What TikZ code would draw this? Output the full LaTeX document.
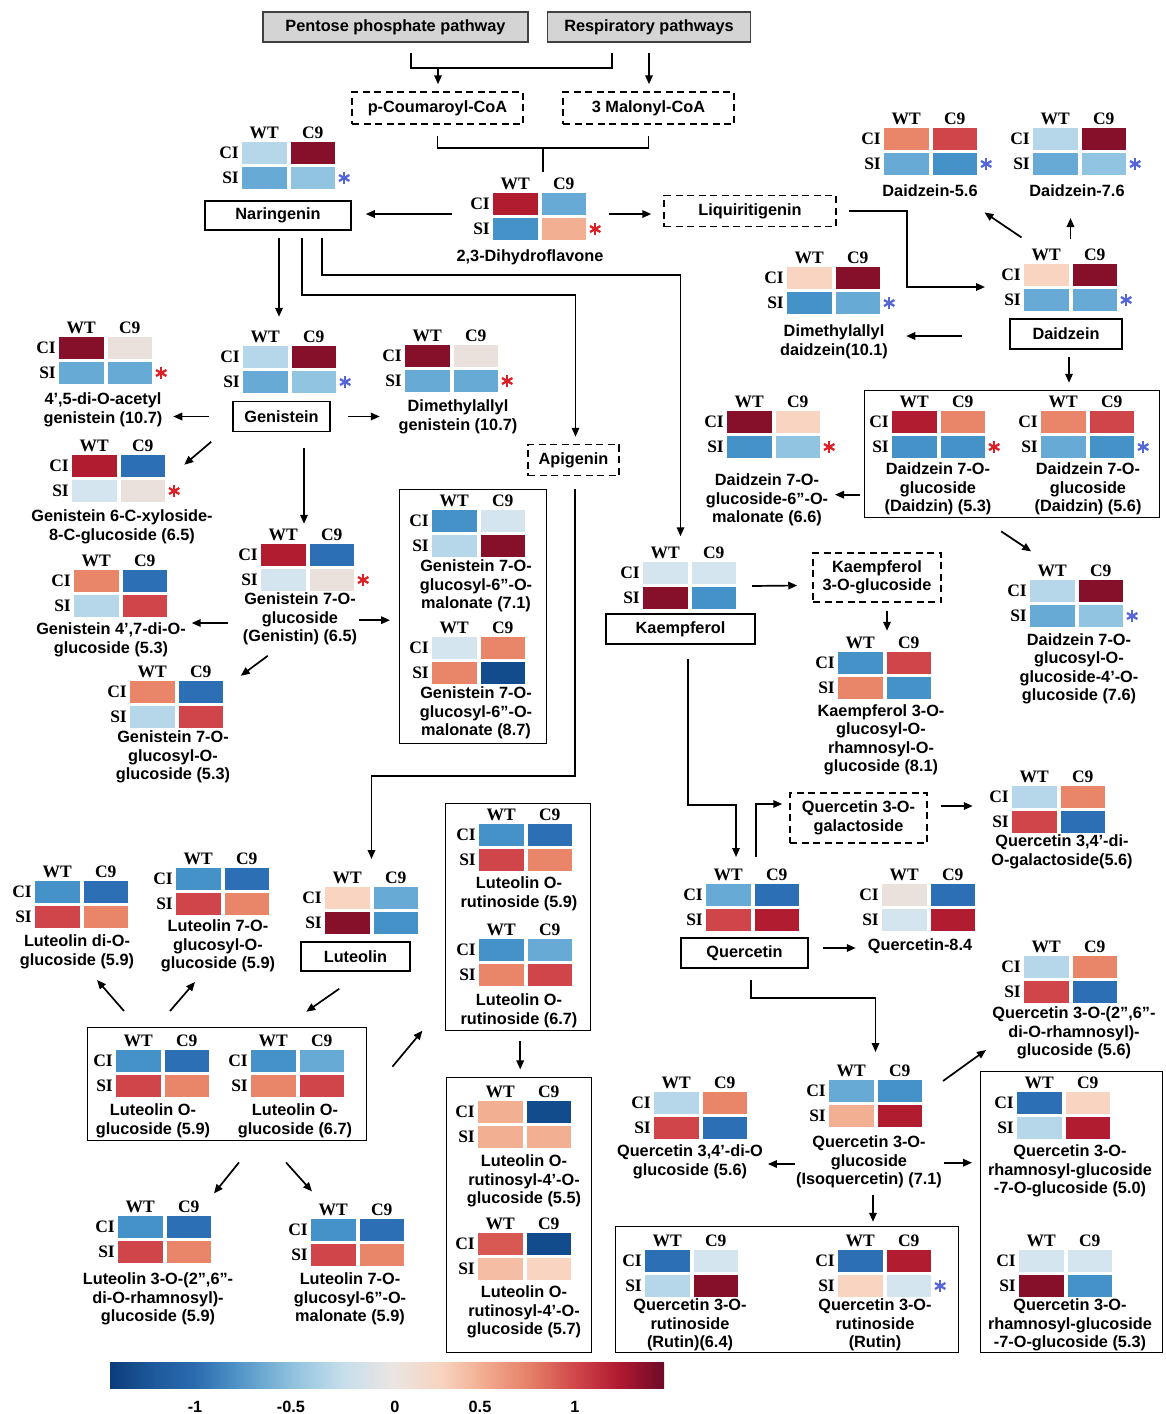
\documentclass[tikz,border=0pt]{standalone}
\usepackage{fontspec}
\setmainfont{Liberation Sans}
\newfontfamily\hmfont{Liberation Serif}
\usepackage{tikz}
\usetikzlibrary{arrows.meta,calc,positioning}
\definecolor{bD}{HTML}{124C8C}
\definecolor{bS}{HTML}{2C6FB4}
\definecolor{bM}{HTML}{4592C8}
\definecolor{bL}{HTML}{66AAD5}
\definecolor{bQ}{HTML}{90C4E1}
\definecolor{bP}{HTML}{B6D6EA}
\definecolor{bW}{HTML}{D5E5EF}
\definecolor{nG}{HTML}{EAE1DC}
\definecolor{rW}{HTML}{F9D5C1}
\definecolor{rP}{HTML}{F3AF91}
\definecolor{rS}{HTML}{E9866A}
\definecolor{rM}{HTML}{D0454A}
\definecolor{rC}{HTML}{B11C31}
\definecolor{rD}{HTML}{860F2A}
\definecolor{KRed}{HTML}{DD1F26}
\definecolor{KBlue}{HTML}{5566D8}
\definecolor{cb0}{HTML}{0C3C7A}
\definecolor{cb1}{HTML}{1E5A9C}
\definecolor{cb2}{HTML}{2A6AAE}
\definecolor{cb3}{HTML}{4A8FC4}
\definecolor{cb4}{HTML}{90C2DE}
\definecolor{cb5}{HTML}{C6DEEC}
\definecolor{cb6}{HTML}{EAE5E2}
\definecolor{cb7}{HTML}{F8D3BF}
\definecolor{cb8}{HTML}{F3AE92}
\definecolor{cb9}{HTML}{E47E66}
\definecolor{cb10}{HTML}{D0464A}
\definecolor{cb11}{HTML}{AF1930}
\definecolor{cb12}{HTML}{6D0A29}
\pgfdeclarehorizontalshading{rdbu}{100bp}{color(0bp)=(cb0); color(25bp)=(cb0);
 color(29bp)=(cb1); color(32.5bp)=(cb2); color(36bp)=(cb3); color(41.5bp)=(cb4);
 color(46bp)=(cb5); color(50.5bp)=(cb6); color(55bp)=(cb7); color(58.5bp)=(cb8);
 color(63bp)=(cb9); color(67bp)=(cb10); color(71bp)=(cb11); color(75bp)=(cb12);
 color(100bp)=(cb12)}
\newcommand{\labfont}{\fontsize{16.3}{18.5}\selectfont\bfseries}
% name, top-left of the cells, CI-WT, CI-C9, SI-WT, SI-C9, star
\newcommand{\hmap}[7]{%
 \node[cell,fill=#3,anchor=north west] (#1-1) at (#2) {};
 \node[cell,fill=#4,right=4pt of #1-1] (#1-2) {};
 \node[cell,fill=#5,below=3pt of #1-1] (#1-3) {};
 \node[cell,fill=#6,below=3pt of #1-2] (#1-4) {};
 \node[hdr,above=3.5pt of #1-1] (#1-wt) {WT};
 \node[hdr,above=3.5pt of #1-2] (#1-c9) {C9};
 \node[hdr,left=3pt of #1-1] (#1-ci) {CI};
 \node[hdr,left=3pt of #1-3] (#1-si) {SI};
 \node[#7,right=3pt of #1-4] (#1-s) {};
}

\begin{document}
\begin{tikzpicture}[x=1pt,y=-1pt,
 cell/.style={minimum width=44.5pt,minimum height=22pt,inner sep=0pt,outer sep=0pt},
 hdr/.style={inner sep=0pt,font=\hmfont\bfseries\fontsize{17.5}{18}\selectfont},
 lab/.style={inner sep=0pt,align=center,font=\labfont,yshift=-2pt},
 sbox/.style={draw,line width=1.5pt,inner sep=0pt,align=center,font=\labfont},
 dbox/.style={sbox,dash pattern=on 7pt off 4.5pt},
 gbox/.style={sbox,draw=black!75,fill=black!17},
 grp/.style={draw,line width=1.4pt,inner sep=0pt,anchor=north west},
 ln/.style={line width=1.7pt},
 arr/.style={ln,-{Triangle[length=9pt,width=7.5pt]}},
 redstar/.style={minimum size=12pt,inner sep=0pt,path picture={\foreach \a in {90,30,150}
   \draw[KRed,line width=2.3pt] (path picture bounding box.center) +(\a:6pt) -- +(\a+180:6pt);}},
 bluestar/.style={minimum size=12pt,inner sep=0pt,path picture={\foreach \a in {90,30,150}
   \draw[KBlue,line width=2.3pt] (path picture bounding box.center) +(\a:6pt) -- +(\a+180:6pt);}},
 nostar/.style={}]
\useasboundingbox (0,0) rectangle (1166,1414);
\fill[white] (0,0) rectangle (1166,1414);

\node[gbox,minimum width=265pt,minimum height=30pt] (pp) at (395.5,27) {Pentose phosphate pathway};
\node[gbox,minimum width=203pt,minimum height=30pt] (rp) at (649,27) {Respiratory pathways};
\node[dbox,minimum width=171pt,minimum height=32pt] (pc) at (437.5,108) {p-Coumaroyl-CoA};
\node[dbox,minimum width=171pt,minimum height=32pt] (mc) at (648.5,108) {3 Malonyl-CoA};
\node[sbox,minimum width=146pt,minimum height=29pt] (nar) at (278,215.5) {Naringenin};
\node[dbox,minimum width=172pt,minimum height=31pt] (liq) at (750,211) {Liquiritigenin};
\node[sbox,minimum width=112pt,minimum height=30pt] (dai) at (1066,334) {Daidzein};
\node[sbox,minimum width=97pt,minimum height=30pt] (gen) at (281.5,416.5) {Genistein};
\node[dbox,minimum width=91pt,minimum height=31pt] (api) at (573.5,460) {Apigenin};
\node[sbox,minimum width=149pt,minimum height=30pt] (kae) at (680.5,629) {Kaempferol};
\node[dbox,minimum width=128pt,minimum height=49pt] (k3g) at (877,577.5) {Kaempferol\\3-O-glucoside};
\node[dbox,minimum width=137pt,minimum height=50pt] (q3g) at (858.5,818) {Quercetin 3-O-\\galactoside};
\node[sbox,minimum width=127pt,minimum height=30pt] (que) at (744.5,953) {Quercetin};
\node[sbox,minimum width=109pt,minimum height=29pt] (lut) at (355.5,956.5) {Luteolin};

\node[grp,minimum width=295pt,minimum height=127pt] (g9) at (864,390) {};
\node[grp,minimum width=147pt,minimum height=254pt] (g18) at (399,489) {};
\node[grp,minimum width=279pt,minimum height=113pt] (g35) at (87,1027) {};
\node[grp,minimum width=145pt,minimum height=227pt] (g38) at (445,803) {};
\node[grp,minimum width=145pt,minimum height=275pt] (g39) at (446,1077) {};
\node[grp,minimum width=343pt,minimum height=126pt] (g30) at (615,1226) {};
\node[grp,minimum width=182pt,minimum height=281pt] (g31) at (980,1071) {};

\hmap{hnar}{242,142}{bP}{rD}{bL}{bQ}{bluestar}
\hmap{hdhf}{493,193}{rC}{bL}{bM}{rP}{redstar}
\hmap{hd56}{884,128}{rS}{rM}{bL}{bM}{bluestar}
\hmap{hd76}{1033,128}{bP}{rD}{bL}{bQ}{bluestar}
\hmap{hdai}{1024,264}{rW}{rD}{bL}{bL}{bluestar}
\hmap{hdmd}{787,267}{rW}{rD}{bM}{bL}{bluestar}
\hmap{hm66}{727,411}{rD}{rW}{bM}{bQ}{redstar}
\hmap{hd9a}{892,411}{rC}{rS}{bM}{bM}{redstar}
\hmap{hd9b}{1041,411}{rS}{rM}{bL}{bM}{bluestar}
\hmap{hd7g}{1030,580}{bP}{rD}{bL}{bQ}{bluestar}
\hmap{hace}{59,337}{rD}{nG}{bL}{bL}{redstar}
\hmap{hgen}{243,346}{bP}{rD}{bL}{bQ}{bluestar}
\hmap{hdmg}{405,345}{rD}{nG}{bL}{bL}{redstar}
\hmap{hxyl}{72,455}{rC}{bS}{bW}{nG}{redstar}
\hmap{hgtn}{261,544}{rC}{bS}{bW}{nG}{redstar}
\hmap{hg47}{74,570}{rS}{bS}{bP}{rM}{nostar}
\hmap{hggg}{130,681}{rS}{bS}{bP}{rM}{nostar}
\hmap{hgm71}{432,510}{bM}{bW}{bP}{rD}{nostar}
\hmap{hgm87}{432,637}{bW}{rS}{rS}{bD}{nostar}
\hmap{hkae}{643,562}{bW}{bW}{rD}{bM}{nostar}
\hmap{hkr}{838,652}{bM}{rM}{rS}{bM}{nostar}
\hmap{hqga}{1012,786}{bP}{rS}{rM}{bS}{nostar}
\hmap{hque}{706,884}{bL}{bS}{rM}{rC}{nostar}
\hmap{hq84}{882,884}{nG}{bS}{bW}{rC}{nostar}
\hmap{hqrh}{1024,956}{bP}{rS}{rM}{bS}{nostar}
\hmap{hiso}{829,1080}{bL}{bM}{rP}{rC}{nostar}
\hmap{hqdg}{654,1092}{bP}{rS}{rM}{bS}{nostar}
\hmap{hru64}{645,1250}{bS}{bW}{bP}{rD}{nostar}
\hmap{hru}{838,1250}{bS}{rC}{rW}{bW}{bluestar}
\hmap{hq50}{1017,1092}{bS}{rW}{bP}{rC}{nostar}
\hmap{hq53}{1019,1250}{bW}{bW}{rD}{bM}{nostar}
\hmap{hlut}{325,887}{rW}{bL}{rD}{bM}{nostar}
\hmap{hl33}{35,881}{bM}{bS}{rM}{rS}{nostar}
\hmap{hl34}{176,868}{bM}{bS}{rM}{rS}{nostar}
\hmap{hl35a}{116,1050}{bM}{bS}{rM}{rS}{nostar}
\hmap{hl35b}{251,1050}{bM}{bL}{rS}{rM}{nostar}
\hmap{hl36}{118,1216}{bM}{bS}{rM}{rS}{nostar}
\hmap{hl37}{311,1219}{bM}{bS}{rM}{rS}{nostar}
\hmap{hl38a}{479,824}{bM}{bS}{rM}{rS}{nostar}
\hmap{hl38b}{479,939}{bM}{bL}{rS}{rM}{nostar}
\hmap{hl39a}{478,1101}{rP}{bD}{rP}{rP}{nostar}
\hmap{hl39b}{478,1233}{rM!70!rS}{bD}{rP!60!rW}{rW}{nostar}

\node[lab] (dhfl) at (530,255) {2,3-Dihydroflavone};
\node[lab] (d56l) at (930,189) {Daidzein-5.6};
\node[lab] (d76l) at (1077,189) {Daidzein-7.6};
\node[lab] (dmdl) at (834,340) {Dimethylallyl\\daidzein(10.1)};
\node[lab] (m66l) at (767,498) {Daidzein 7-O-\\glucoside-6''-O-\\malonate (6.6)};
\node[lab] (d9al) at (938,487) {Daidzein 7-O-\\glucoside\\(Daidzin) (5.3)};
\node[lab] (d9bl) at (1088,487) {Daidzein 7-O-\\glucoside\\(Daidzin) (5.6)};
\node[lab] (d7gl) at (1079,667) {Daidzein 7-O-\\glucosyl-O-\\glucoside-4'-O-\\glucoside (7.6)};
\node[lab] (acel) at (103,408) {4',5-di-O-acetyl\\genistein (10.7)};
\node[lab] (dmgl) at (458,415) {Dimethylallyl\\genistein (10.7)};
\node[lab] (xyll) at (122,525) {Genistein 6-C-xyloside-\\8-C-glucoside (6.5)};
\node[lab] (gl15) at (300,617) {Genistein 7-O-\\glucoside\\(Genistin) (6.5)};
\node[lab] (g47l) at (111,638) {Genistein 4',7-di-O-\\glucoside (5.3)};
\node[lab] (gggl) at (173,755) {Genistein 7-O-\\glucosyl-O-\\glucoside (5.3)};
\node[lab] (gm71l) at (476,584) {Genistein 7-O-\\glucosyl-6''-O-\\malonate (7.1)};
\node[lab] (gm87l) at (476,711) {Genistein 7-O-\\glucosyl-6''-O-\\malonate (8.7)};
\node[lab] (krl) at (881,738) {Kaempferol 3-O-\\glucosyl-O-\\rhamnosyl-O-\\glucoside (8.1)};
\node[lab] (qgal) at (1062,850) {Quercetin 3,4'-di-\\O-galactoside(5.6)};
\node[lab] (q84l) at (920,944) {Quercetin-8.4};
\node[lab] (qrhl) at (1074,1031) {Quercetin 3-O-(2'',6''-\\di-O-rhamnosyl)-\\glucoside (5.6)};
\node[lab] (isol) at (869,1160) {Quercetin 3-O-\\glucoside\\(Isoquercetin) (7.1)};
\node[lab] (qdgl) at (690,1160) {Quercetin 3,4'-di-O\\glucoside (5.6)};
\node[lab] (ru64l) at (690,1323) {Quercetin 3-O-\\rutinoside\\(Rutin)(6.4)};
\node[lab] (rul) at (875,1323) {Quercetin 3-O-\\rutinoside\\(Rutin)};
\node[lab] (q50l) at (1070,1169) {Quercetin 3-O-\\rhamnosyl-glucoside\\-7-O-glucoside (5.0)};
\node[lab] (q53l) at (1070,1323) {Quercetin 3-O-\\rhamnosyl-glucoside\\-7-O-glucoside (5.3)};
\node[lab] (l33l) at (77,950) {Luteolin di-O-\\glucoside (5.9)};
\node[lab] (l34l) at (218,944) {Luteolin 7-O-\\glucosyl-O-\\glucoside (5.9)};
\node[lab] (l35al) at (153,1119) {Luteolin O-\\glucoside (5.9)};
\node[lab] (l35bl) at (295,1119) {Luteolin O-\\glucoside (6.7)};
\node[lab] (l36l) at (158,1297) {Luteolin 3-O-(2'',6''-\\di-O-rhamnosyl)-\\glucoside (5.9)};
\node[lab] (l37l) at (350,1297) {Luteolin 7-O-\\glucosyl-6''-O-\\malonate (5.9)};
\node[lab] (l38al) at (519,892) {Luteolin O-\\rutinoside (5.9)};
\node[lab] (l38bl) at (519,1009) {Luteolin O-\\rutinoside (6.7)};
\node[lab] (l39al) at (524,1179) {Luteolin O-\\rutinosyl-4'-O-\\glucoside (5.5)};
\node[lab] (l39bl) at (524,1310) {Luteolin O-\\rutinosyl-4'-O-\\glucoside (5.7)};

\coordinate (j1) at ($(pp.south)+(15.5,10)$);
\coordinate (j2) at ($(rp.south)+(-37,10)$);
\coordinate (j3) at ($(pp.south)+(42.5,25)$);
\coordinate (j4) at ($(pc.south)!.5!(mc.south)+(0,23)$);
\draw[ln] (j1) |- (j3) -| (j2);
\draw[arr] (j3) -- ($(pc.north)+(0.5,-7)$);
\draw[arr] ($(rp.south)+(0,10)$) -- ($(mc.north)+(0.5,-7)$);
\draw[ln] ($(pc.south)+(0,11)$) |- ($(mc.south)+(0,23)$) -- ($(mc.south)+(0,11)$);
\draw[ln] (j4) -- ++(0,24);
\draw[arr] ($(hdhf-1.west)+(-41,10)$) -- ($(nar.east)+(14,-1.5)$);
\draw[arr] ($(hdhf-4.north east)+(23,-4)$) -- ($(liq.west)+(-12,3)$);
\draw[arr] ($(liq.east)+(12,0)$) -- ++(58,0) |- ($(hdai-1.south west)+(-39,1)$);
\draw[arr] ($(hdai-wt.west)+(-10,-17)$) -- ++(-37,-25);
\draw[arr] ($(hdai-1.north east)+(2,-25)$) -- ++(0,-21);
\draw[arr] ($(dai.west)+(-47,2)$) -- ++(-56,0);
\draw[arr] ($(dai.south)+(3,7)$) -- ++(0,26);
\draw[arr] ($(g9.west)+(-4,40.5)$) -- ++(-25,0);
\draw[arr] ($(g9.south)+(-11,13)$) -- ++(30,20);

\draw[arr] ($(nar.south)+(1,7)$) -- ++(0,79);
\draw[arr] ($(nar.south)+(24,7)$) -- ++(0,57) -| ($(api.north)+(2,-7)$);
\draw[arr] ($(nar.south)+(44,7)$) -- ++(0,37) -| ($(kae.north)+(0,-77)$);
\draw[arr] ($(gen.west)+(-23,0)$) -- ++(-36,0);
\draw[arr] ($(gen.east)+(17,0)$) -- ++(32,0);
\draw[arr] ($(gen.south west)+(-21,9.5)$) -- ++(-27,23);
\draw[arr] ($(gen.south)+(22.5,15.5)$) -- ++(0,76);
\draw[arr] ($(gl15.west)+(-15,4)$) -- ++(-36,0);
\draw[arr] ($(g18.west)+(-40,3.5)$) -- ++(31,0);
\draw[arr] ($(gl15.south west)+(25,10.5)$) -- ++(-27,20);

\draw[arr] ($(api.south)+(1.5,12.5)$) -- ++(0,287) -| ($(hlut-1.north east)!.5!(hlut-2.north west)+(0,-28)$);
\draw[arr] ($(lut.south west)+(39,17)$) -- ++(-33,23);
\draw[arr] ($(g35.north west)+(37,-16)$) -- ++(-27,-31);
\draw[arr] ($(g35.north west)+(83,-16)$) -- ++(25,-29);
\draw[arr] ($(g35.east)+(25,-17.5)$) -- ++(30,-36);
\draw[arr] ($(g35.south west)+(152,21)$) -- ++(-25,31);
\draw[arr] ($(g35.south west)+(199,21)$) -- ++(26,29);
\draw[arr] ($(g38.south)+(2,10)$) -- ++(0,28);

\draw[arr] ($(hkae-2.south east)+(16,2)$) -- ($(k3g.west)+(-15,8)$);
\draw[arr] ($(k3g.south)+(10,8)$) -- ++(0,20);
\draw[arr] ($(kae.south)+(7.5,14)$) -- ++(0,146) -| ($(hque-1.north)+(7.75,-27)$);
\draw[arr] ($(hque-1.north east)+(5.5,-27)$) |- ($(q3g.west)+(-7,-14)$);
\draw[arr] ($(q3g.east)+(13,-12)$) -- ++(32,0);
\draw[arr] ($(que.east)+(14,-5)$) -- ++(33,0);
\draw[arr] ($(que.south)+(6.5,11)$) -- ++(0,18) -| ($(hiso-1.north east)!.5!(hiso-2.north west)+(0,-28)$);
\draw[arr] ($(isol.west)+(-1,2)$) -- ++(-27,0);
\draw[arr] ($(g31.west)+(-36,-49.5)$) -- ++(28,0);
\draw[arr] ($(hiso-2.north east)+(21,1)$) -- ++(43,-31);
\draw[arr] ($(isol.south)+(4,6.5)$) -- ++(0,27);

\shade[shading=rdbu] (110,1362) rectangle (664,1388);
\node[lab] (t1) at (195,1405) {-1};
\node[lab] (t2) at (291,1405) {-0.5};
\node[lab] (t3) at (395,1405) {0};
\node[lab] (t4) at (480,1405) {0.5};
\node[lab] (t5) at (575,1405) {1};
\end{tikzpicture}
\end{document}
